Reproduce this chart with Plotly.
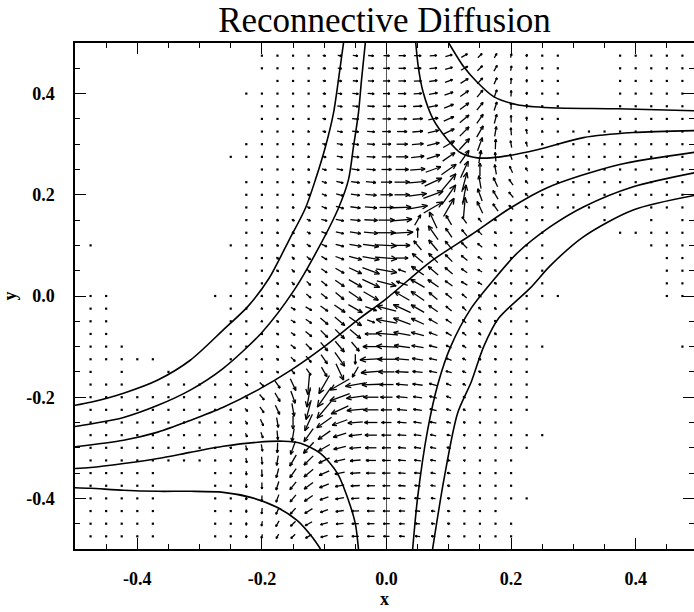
import math
import plotly.graph_objects as go

# ---------------- data ----------------
x_grid = [-0.275, -0.25, -0.225, -0.2, -0.175, -0.15, -0.125, -0.1, -0.075, -0.05, -0.025, 0.0,
          0.025, 0.05, 0.075, 0.1, 0.125, 0.15, 0.175, 0.2, 0.225, 0.25, 0.275]
y_grid = [0.475, 0.45, 0.425, 0.4, 0.375, 0.35, 0.325, 0.3, 0.275, 0.25, 0.225, 0.2, 0.175, 0.15,
          0.125, 0.1, 0.075, 0.05, 0.025, 0.0, -0.025, -0.05, -0.075, -0.1, -0.125, -0.15, -0.175,
          -0.2, -0.225, -0.25, -0.275, -0.3, -0.325, -0.35, -0.375, -0.4, -0.425, -0.45, -0.475]

# vector magnitude (plot units, as drawn) for each grid point, rows follow y_grid
arrow_len = [
    [0,0,0,1,1,1,1.5,3,4,5,5.5,6,7,7,7,7,7,6,5,4,3,1,1],
    [0,0,0,1,1,1,1.5,3,4,5,5.5,6.5,7,7,7.5,7.5,8,7,6.5,5,3,1,1],
    [0,0,0,0,1,1,1.5,3,4,5,6,7,7.5,7.5,8,8,9,8,7,6,3,1,1],
    [0,0,1,1,1,1,1.5,3,4.5,6,6.5,7,8,8,8.5,9,10,9,8,6,3,1,1],
    [0,0,0,1,1,1,1.5,3,5,6,7,7.5,8,9,9,10,11,10,9,6.5,4,1,1],
    [0,0,0,1,1,1,1.5,3.5,5,6.5,7,8,9,10,10,11,12,11,9.5,7,4,1.5,1],
    [0,0,0,1,1,1,2,3.5,5.5,6.5,7.5,8.5,10,10.5,11,12,13,13,10,7.5,5,2,1],
    [0,0,1,1,1,1,2,4,6,7,8,9,11,11.5,12.5,13,15,14,10,7,5,2,1],
    [0,1,1,1,1,1.5,2,4,6,7.5,8.5,9.5,12,13,13.5,15,16,13,9,6,4,1.5,1],
    [0,0,0,1,1,2,2.5,4.5,6.5,8,9,10,13,15,16,18,18,13,10,7,4,2,1],
    [0,0,1,1,1,2,3,5,7,8.5,10,11,15,17,19,22,20,13,10,7,4,2,1],
    [0,0,1,1,1.5,2,3,5,7.5,9,11,12,15,18,21,24,20,13,10,7,4,2,1],
    [0,0,1,1,1.5,2.5,3.5,5.5,8,10,12,14,18,20,22,21,20,13,9,6,4,2,1],
    [0,0,1,1,2.5,3,4,6,8,10,13,16,20,12,18,11,8,5,3,2,1,1,0],
    [0,0,1,1,2.5,3,4,6,8,11,14,18,22,10,17,11,8,6,3,2,1,1,0],
    [0,1,1,1,2.5,3.5,4.5,6,8.5,12,16,20,16,12,14,11,8,6,3.5,2,1,1,0],
    [0,0,1,1.5,3,3.5,5,6.5,9,13,17,21,12,14,13,10,8,5,3,2,1,1,0],
    [0,0,1,1.5,3,4,5,7,10,14,18,21,8,15,13,10,7,5,3,2,1,1,0],
    [0,0,1,1.5,3,4,5.5,7.5,11,15,19,20,12,16,13,9,7,5,3,2,1,1,0],
    [1,1,1,2,3,4,6,8,11,16,17,0,17,16,11,8,6,4,3,2,1,1,1],
    [0,1,1,2,3,5,7,9,13,16,12,20,19,15,11,7.5,5.5,4,3,1.5,1,0,0],
    [0,1,1,2,3,5,7,10,13,15,8,21,18,14,10,7,5,4,3,1.5,1,0,0],
    [0,1,1,2,3,5,8,10,13,14,12,21,17,13,9,6.5,5,3.5,3,1.5,1,0,0],
    [0,1,1,2,3.5,6,8,11,14,12,16,20,16,12,8.5,6,4.5,3.5,2.5,1,1,1,0],
    [0,1,1,2,3,6,8,11,17,10,22,18,14,11,8,6,4,3,2.5,1,1,0,0],
    [0,1,1,2,3,5,8,11,18,12,20,16,13,10,8,6,4,3,2.5,1,1,0,0],
    [1,2,4,6,9,13,20,21,22,20,18,14,12,10,8,5.5,3.5,2.5,1.5,1,1,0,0],
    [1,2,4,7,10,13,20,24,21,18,15,12,11,9,7.5,5,3,2,1.5,1,1,0,0],
    [1,2,4,7,10,13,20,22,19,17,15,11,10,8.5,7,5,3,2,1,1,1,0,0],
    [1,2,4,7,10,13,18,18,16,15,13,10,9,8,6.5,4.5,2.5,2,1,1,0,0,0],
    [1,1.5,4,6,9,13,16,15,13.5,13,12,9.5,8.5,7.5,6,4,2,1.5,1,1,1,1,0],
    [1,2,5,7,10,14,15,13,12.5,11.5,11,9,8,7,6,4,2,1,1,1,1,0,0],
    [1,2,5,7.5,10,13,13,12,11,10.5,10,8.5,7.5,6.5,5.5,3.5,2,1,1,1,0,0,0],
    [1,1.5,4,7,9.5,11,12,11,10,10,9,8,7,6.5,5,3.5,1.5,1,1,1,0,0,0],
    [1,1,4,6.5,9,10,11,10,9,9,8,7.5,7,6,5,3,1.5,1,1,1,0,0,0],
    [1,1,3,6,8,9,10,9,8.5,8,8,7,6.5,6,4.5,3,1.5,1,1,1,1,0,0],
    [1,1,3,6,7,8,9,8,8,7.5,7.5,7,6,5,4,3,1.5,1,1,0,0,0,0],
    [1,1,3,5,6.5,7,8,7.5,7.5,7,7,6.5,5.5,5,4,3,1.5,1,1,1,0,0,0],
    [1,1,3,4,5,6,7,7,7,7,7,6,5.5,5,4,3,1.5,1,1,1,0,0,0],
]

# vector direction in degrees (0 = +x, 90 = +y)
arrow_ang = [
    [0,0,0,0,0,-10,-10,-10,-8,-5,-3,0,0,0,5,15,30,45,60,75,85,90,90],
    [0,0,0,0,0,-10,-12,-10,-8,-5,-3,0,0,0,5,15,30,45,60,80,90,90,90],
    [0,0,0,0,0,-12,-12,-10,-8,-5,-3,0,0,2,8,20,32,48,65,85,90,90,90],
    [0,0,0,0,0,-15,-15,-12,-8,-5,-3,0,0,3,10,20,35,50,70,88,90,90,90],
    [0,0,0,0,0,-15,-15,-12,-10,-6,-4,0,0,3,10,22,37,52,72,90,92,90,90],
    [0,0,0,0,0,-15,-18,-14,-10,-6,-4,0,0,4,12,24,40,55,75,92,95,90,90],
    [0,0,0,0,0,-18,-20,-15,-10,-6,-4,0,0,5,13,26,45,60,80,95,100,95,90],
    [0,0,0,0,0,-20,-20,-15,-10,-7,-4,0,0,5,14,30,47,70,88,100,105,100,90],
    [0,0,0,0,0,-20,-22,-17,-12,-7,-4,0,0,6,18,35,55,80,95,110,115,110,90],
    [0,0,0,0,0,-22,-25,-18,-12,-8,-5,0,0,5,20,35,65,90,100,115,120,120,100],
    [0,0,0,0,0,-25,-25,-20,-14,-8,-5,0,0,5,25,50,75,100,115,125,130,130,120],
    [0,0,0,0,-25,-25,-28,-22,-15,-8,-5,0,0,8,20,55,80,110,120,130,135,135,130],
    [0,0,0,0,-25,-28,-28,-22,-15,-8,-5,0,2,10,30,60,85,115,125,135,140,140,135],
    [0,0,0,0,-30,-30,-25,-15,-10,-5,-3,0,5,60,115,120,125,130,135,135,0,0,0],
    [0,0,0,0,-35,-35,-30,-20,-12,-8,-5,0,3,90,125,125,130,135,140,140,0,0,0],
    [0,0,0,0,-40,-40,-35,-25,-15,-10,-8,-3,0,130,130,130,135,140,140,140,0,0,0],
    [0,0,0,0,-45,-45,-40,-30,-20,-15,-10,-5,0,140,135,135,140,145,145,145,0,0,0],
    [0,0,0,0,-45,-45,-45,-35,-30,-25,-20,-10,160,145,140,140,145,150,150,150,0,0,0],
    [0,0,0,0,-50,-50,-45,-40,-35,-30,-25,-15,160,150,145,145,150,150,150,150,0,0,0],
    [0,0,0,-40,-40,-40,-40,-40,-40,-35,-30,0,150,145,140,140,140,140,140,140,0,0,0],
    [180,180,180,330,330,330,330,325,325,330,340,165,155,150,145,140,135,130,130,180,180,180,180],
    [180,180,180,330,330,330,325,320,320,325,340,170,160,155,150,145,135,135,135,180,180,180,180],
    [180,180,180,325,325,325,320,315,315,320,180,175,170,165,160,150,140,135,135,180,180,180,180],
    [180,180,180,320,320,320,315,310,310,310,180,177,172,170,165,155,145,140,140,180,180,180,180],
    [180,180,180,320,320,315,310,305,305,270,183,180,175,172,168,160,150,145,145,180,180,180,180],
    [180,180,180,315,315,310,305,300,295,240,185,180,177,175,170,165,155,150,150,180,180,180,180],
    [315,320,320,315,305,295,265,240,210,190,182,180,175,172,165,158,152,152,155,180,180,180,180],
    [310,315,315,310,300,290,260,235,200,188,180,180,175,172,165,158,152,155,155,180,180,180,180],
    [300,310,310,305,295,280,255,230,205,185,180,180,175,172,166,160,155,155,180,180,180,180,180],
    [280,300,300,295,280,270,245,215,200,185,180,180,175,172,168,162,155,158,180,180,180,180,180],
    [270,290,295,290,275,260,235,215,198,186,180,180,176,173,168,163,158,160,180,180,180,180,180],
    [270,280,285,280,268,250,227,210,194,185,180,180,176,173,170,165,160,160,180,180,180,180,180],
    [270,275,280,275,260,240,225,206,193,185,180,180,176,174,170,165,160,162,180,180,180,180,180],
    [270,270,275,272,255,235,220,204,192,184,180,180,176,174,170,166,162,165,180,180,180,180,180],
    [270,270,272,270,252,232,217,202,190,183,180,180,176,174,170,168,165,165,180,180,180,180,180],
    [270,270,270,268,250,230,215,200,190,183,180,180,177,175,172,168,165,165,180,180,180,180,180],
    [270,270,270,265,245,228,212,200,188,182,180,180,177,175,172,170,168,168,180,180,180,180,180],
    [270,270,270,260,240,225,210,195,185,180,180,180,177,175,172,170,168,170,180,180,180,180,180],
    [270,270,265,255,240,225,210,195,185,180,180,180,177,175,172,170,170,170,180,180,180,180,180],
]

# tiny vectors (dots) in the outer parts of the box: (y, [x values])
outer_dot_rows = [
    (0.475, [0.375, 0.4, 0.425, 0.45, 0.475]),
    (0.45, [0.375, 0.4, 0.425, 0.45, 0.475]),
    (0.425, [0.375, 0.4, 0.425, 0.45, 0.475]),
    (0.4, [0.375, 0.4, 0.425, 0.45, 0.475]),
    (0.375, [0.375, 0.4, 0.425, 0.45, 0.475]),
    (0.35, [0.375, 0.4, 0.425, 0.45, 0.475]),
    (0.325, [0.3, 0.325, 0.35, 0.375, 0.4, 0.425, 0.45, 0.475]),
    (0.3, [0.3, 0.325, 0.35, 0.375, 0.4, 0.425, 0.45, 0.475]),
    (0.275, [0.3, 0.325, 0.35, 0.375, 0.4, 0.425, 0.45, 0.475]),
    (0.25, [0.3, 0.325, 0.35, 0.375, 0.4, 0.425, 0.45, 0.475]),
    (0.225, [0.3, 0.325, 0.35, 0.375, 0.4, 0.425, 0.45, 0.475]),
    (0.2, [0.3, 0.325, 0.35, 0.375, 0.4, 0.425, 0.45, 0.475]),
    (0.175, [0.3, 0.325, 0.35, 0.425, 0.45, 0.475]),
    (0.15, [0.35, 0.425, 0.475]),
    (0.125, [0.375, 0.4, 0.425, 0.45, 0.475]),
    (0.1, [-0.475, 0.425, 0.45, 0.475]),
    (0.075, [0.45, 0.475]),
    (0.05, [0.45, 0.475]),
    (0.025, [0.45, 0.475]),
    (0.0, [-0.475, -0.45, 0.45, 0.475]),
    (-0.025, [-0.475, -0.45]),
    (-0.05, [-0.475, -0.45]),
    (-0.075, [-0.475, -0.45]),
    (-0.1, [-0.475, -0.45, -0.425, 0.475]),
    (-0.125, [-0.475, -0.45, -0.425, -0.4, -0.375]),
    (-0.15, [-0.475, -0.425, -0.35]),
    (-0.175, [-0.475, -0.45, -0.425, -0.35, -0.325, -0.3]),
    (-0.2, [-0.475, -0.45, -0.425, -0.4, -0.375, -0.35, -0.325, -0.3]),
    (-0.225, [-0.475, -0.45, -0.425, -0.4, -0.375, -0.35, -0.325, -0.3]),
    (-0.25, [-0.475, -0.45, -0.425, -0.4, -0.375, -0.35, -0.325, -0.3]),
    (-0.275, [-0.475, -0.45, -0.425, -0.4, -0.375, -0.35, -0.325, -0.3]),
    (-0.3, [-0.475, -0.45, -0.425, -0.4, -0.375, -0.35, -0.325, -0.3]),
    (-0.325, [-0.475, -0.45, -0.425, -0.4, -0.375, -0.35, -0.325, -0.3]),
    (-0.35, [-0.475, -0.45, -0.425, -0.4, -0.375]),
    (-0.375, [-0.475, -0.45, -0.425, -0.4, -0.375]),
    (-0.4, [-0.475, -0.45, -0.425, -0.4, -0.375]),
    (-0.425, [-0.475, -0.45, -0.425, -0.4, -0.375]),
    (-0.45, [-0.475, -0.45, -0.425, -0.4, -0.375]),
    (-0.475, [-0.475, -0.45, -0.425, -0.4, -0.375]),
]

# contour (field) lines
curve_a_x = [-0.5, -0.475, -0.422, -0.367, -0.315, -0.262, -0.222, -0.189, -0.157, -0.130, -0.114, -0.098, -0.085, -0.077, -0.069]
curve_a_y = [-0.216, -0.21, -0.192, -0.166, -0.127, -0.067, -0.02, 0.034, 0.109, 0.174, 0.23, 0.295, 0.362, 0.428, 0.5]
curve_b_x = [-0.5, -0.475, -0.422, -0.367, -0.315, -0.262, -0.2, -0.148, -0.109, -0.077, -0.061, -0.053, -0.045, -0.040, -0.034]
curve_b_y = [-0.258, -0.253, -0.24, -0.216, -0.186, -0.143, -0.072, 0.012, 0.095, 0.174, 0.23, 0.295, 0.362, 0.428, 0.5]
curve_c_x = [-0.5, -0.422, -0.367, -0.315, -0.262, -0.207, -0.154, -0.101, -0.047, 0.0, 0.072, 0.136, 0.199, 0.258, 0.371, 0.5]
curve_c_y = [-0.298, -0.285, -0.269, -0.246, -0.22, -0.186, -0.147, -0.101, -0.048, -0.005, 0.069, 0.121, 0.174, 0.214, 0.259, 0.285]
curve_d_x = [-0.5, -0.475, -0.422, -0.367, -0.315, -0.262, -0.207, -0.165, -0.138, -0.106, -0.079, -0.061, -0.05, -0.045]
curve_d_y = [-0.341, -0.339, -0.331, -0.321, -0.309, -0.297, -0.289, -0.287, -0.291, -0.311, -0.35, -0.404, -0.45, -0.5]
curve_e_x = [-0.5, -0.475, -0.422, -0.367, -0.315, -0.262, -0.218, -0.175, -0.143, -0.119, -0.106]
curve_e_y = [-0.379, -0.38, -0.384, -0.386, -0.386, -0.388, -0.398, -0.418, -0.444, -0.477, -0.5]
curve_f_x = [0.100, 0.124, 0.146, 0.172, 0.21, 0.263, 0.371, 0.5]
curve_f_y = [0.5, 0.453, 0.422, 0.394, 0.378, 0.372, 0.37, 0.366]
curve_g_x = [0.047, 0.051, 0.059, 0.075, 0.098, 0.119, 0.146, 0.183, 0.242, 0.316, 0.396, 0.5]
curve_g_y = [0.5, 0.453, 0.402, 0.349, 0.309, 0.283, 0.273, 0.275, 0.289, 0.313, 0.323, 0.327]
curve_h_x = [0.5, 0.396, 0.316, 0.263, 0.21, 0.172, 0.136, 0.103, 0.083, 0.066, 0.05, 0.042]
curve_h_y = [0.245, 0.216, 0.176, 0.137, 0.085, 0.032, -0.024, -0.1, -0.172, -0.265, -0.398, -0.5]
curve_i_x = [0.5, 0.396, 0.316, 0.263, 0.231, 0.18, 0.156, 0.136, 0.114, 0.092, 0.074]
curve_i_y = [0.2, 0.17, 0.117, 0.06, 0.016, -0.044, -0.1, -0.17, -0.232, -0.364, -0.5]
axis_line_x = [0.0, 0.0]
axis_line_y = [-0.5, 0.5]

x_ticks = [-0.4, -0.2, 0.0, 0.2, 0.4]
y_ticks = [-0.4, -0.2, 0.0, 0.2, 0.4]
tick_text = ["-0.4", "-0.2", "0.0", "0.2", "0.4"]

# ---------------- layout geometry ----------------
W, H = 694, 612
ML, MR, MT, MB = 75, 0, 43, 63
XR = [-0.5, 0.4936]
YR = [-0.5, 0.5]
sx = (W - ML - MR) / (XR[1] - XR[0])   # screen px per x unit
sy = (H - MT - MB) / (YR[1] - YR[0])   # screen px per y unit

# ---------------- arrows (IDL velovect style, centred on grid points) ----------------
ax, ay, dots_x, dots_y = [], [], [], []
for j, yv in enumerate(y_grid):
    for i, xv in enumerate(x_grid):
        L = arrow_len[j][i]
        if L == 0:
            continue
        if L <= 1.5:
            dots_x.append(xv); dots_y.append(yv)
            continue
        a = math.radians(arrow_ang[j][i])
        ux, uy = L * math.cos(a), L * math.sin(a)
        x0, y0 = xv - ux / 2 / sx, yv - uy / 2 / sy
        x1, y1 = xv + ux / 2 / sx, yv + uy / 2 / sy
        ax += [x0, x1, None]; ay += [y0, y1, None]
        hl = max(0.3 * L, 2.2)
        for s in (1, -1):
            b = a + math.pi + s * math.radians(24)
            ax += [x1, x1 + hl * math.cos(b) / sx, None]
            ay += [y1, y1 + hl * math.sin(b) / sy, None]

for yv, xs in outer_dot_rows:
    for xv in xs:
        dots_x.append(xv); dots_y.append(yv)

fig = go.Figure()
fig.add_trace(go.Scatter(x=axis_line_x, y=axis_line_y, mode="lines",
                         line=dict(color="#555555", width=1), hoverinfo="skip"))
fig.add_trace(go.Scatter(x=ax, y=ay, mode="lines", line=dict(color="black", width=1.3),
                         hoverinfo="skip"))
fig.add_trace(go.Scatter(x=dots_x, y=dots_y, mode="markers",
                         marker=dict(color="black", size=2.2, symbol="square"), hoverinfo="skip"))
for cx, cy in [(curve_a_x, curve_a_y), (curve_b_x, curve_b_y), (curve_c_x, curve_c_y),
               (curve_d_x, curve_d_y), (curve_e_x, curve_e_y), (curve_f_x, curve_f_y),
               (curve_g_x, curve_g_y), (curve_h_x, curve_h_y), (curve_i_x, curve_i_y)]:
    fig.add_trace(go.Scatter(x=cx, y=cy, mode="lines",
                             line=dict(color="black", width=1.6, shape="spline", smoothing=0.8),
                             hoverinfo="skip"))

tickfont = dict(family="Liberation Serif", size=18, color="black", weight="bold")
axis_common = dict(showline=True, linecolor="black", linewidth=1.5, mirror="ticks",
                   ticks="inside", ticklen=11, tickwidth=1.3, tickcolor="black",
                   showgrid=False, zeroline=False, automargin=False,
                   minor=dict(ticks="inside", ticklen=5, dtick=0.05, tickwidth=1,
                              tickcolor="black", showgrid=False),
                   tickfont=tickfont)

fig.update_layout(
    width=W, height=H,
    margin=dict(l=ML, r=MR, t=MT, b=MB),
    paper_bgcolor="white", plot_bgcolor="white",
    showlegend=False,
    title=dict(text="Reconnective Diffusion", x=0.5, xref="paper", xanchor="center",
               y=1 - 20 / H, yref="container", yanchor="middle",
               font=dict(family="Liberation Serif", size=35, color="black")),
    xaxis=dict(range=XR, tickvals=x_ticks, ticktext=tick_text, ticklabelstandoff=13,
               title=dict(text="x", standoff=4,
                          font=dict(family="Liberation Serif", size=18, color="black", weight="bold")),
               **axis_common),
    yaxis=dict(range=YR, tickvals=y_ticks, ticktext=tick_text, ticklabelstandoff=15,
               title=dict(text="y", standoff=16,
                          font=dict(family="Liberation Serif", size=18, color="black", weight="bold")),
               **axis_common),
)

fig.write_html("out.html", config={"displayModeBar": False},
               post_script="document.body.style.margin='0';document.body.style.overflow='hidden';")
